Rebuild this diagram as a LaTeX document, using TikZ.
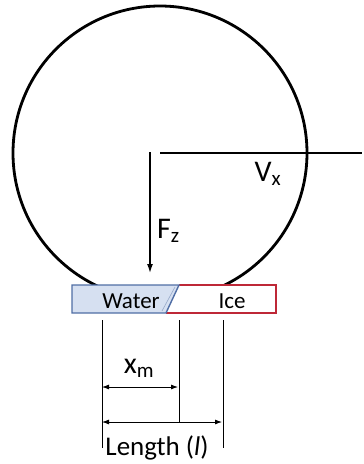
\documentclass[tikz,border=0pt]{standalone}
\usepackage{fontspec}
\setmainfont{Carlito}
\usetikzlibrary{arrows.meta, positioning, calc}
\definecolor{waterline}{RGB}{80, 110, 165}
\definecolor{waterfill}{RGB}{214, 224, 241}
\definecolor{iceline}{RGB}{190, 40, 55}

\begin{document}
\begin{tikzpicture}[
          x=1pt, y=-1pt,
          force/.style={line width=1.4pt, -{Latex[length=9pt, width=6pt]}},
          guide/.style={line width=0.8pt},
          dimarr/.style={line width=0.8pt, {Latex[length=7pt, width=5pt]}-{Latex[length=7pt, width=5pt]}},
          lbl/.style={font=\fontsize{30}{32}\selectfont, inner sep=0pt},
          barlbl/.style={font=\fontsize{23}{25}\selectfont, inner sep=0pt},
        ]
        \useasboundingbox (0,0) rectangle (364,464);

        % wheel
        \node[draw, circle, line width=2.8pt, minimum size=294pt, inner sep=0pt] (wheel) at (160,153) {};

        \coordinate (hub) at (150,152);
        \coordinate (load) at (150,273);
        \coordinate (axle) at (160,153);
        \coordinate (vend) at (362,153);
        \draw[force] (hub) -- (load);
        \draw[line width=1.4pt] (axle) -- (vend);
        \node[lbl, anchor=west] (fz) at (157,231) {F\textsubscript{z}};
        \node[lbl] (vx) at (268,174) {V\textsubscript{x}};

        % contact patch
        \coordinate (wtl) at (72,285);
        \coordinate (wbl) at (72,313);
        \coordinate (stop) at (179,285);
        \coordinate (sbot) at (166,313);
        \coordinate (itr) at (276,285);
        \coordinate (ibr) at (276,313);
        \fill[white] (stop) -- (itr) -- (ibr) -- (sbot) -- cycle;
        \draw[iceline, line width=1.4pt] (stop) -- (itr) -- (ibr) -- (sbot);
        \draw[waterline, fill=waterfill, line width=1.4pt] (wtl) -- (stop) -- (sbot) -- (wbl) -- cycle;
        \draw[waterline!60, line width=0.6pt] ($(stop)+(-4,2)$) -- ($(sbot)+(-4,-2)$);
        \node[barlbl] (water) at (131,301) {Water};
        \node[barlbl] (ice) at (232,301) {Ice};

        % dimensions
        \coordinate (g1t) at (102,320);
        \coordinate (g1b) at (102,448);
        \coordinate (g2t) at (179,320);
        \coordinate (g2b) at (179,422);
        \coordinate (g3t) at (223,320);
        \coordinate (g3b) at (223,448);
        \draw[guide] (g1t) -- (g1b);
        \draw[guide] (g2t) -- (g2b);
        \draw[guide] (g3t) -- (g3b);
        \coordinate (xa) at (102,387);
        \coordinate (xb) at (178,387);
        \coordinate (la) at (102,422);
        \coordinate (lb) at (222,422);
        \draw[dimarr] (xa) -- (xb);
        \draw[dimarr] (la) -- (lb);
        \node[lbl] (xm) at (139,368) {x\textsubscript{m}};
        \node[lbl, font=\fontsize{27}{29}\selectfont] (len) at (157,448) {Length (\textit{l})};
      \end{tikzpicture}
\end{document}
